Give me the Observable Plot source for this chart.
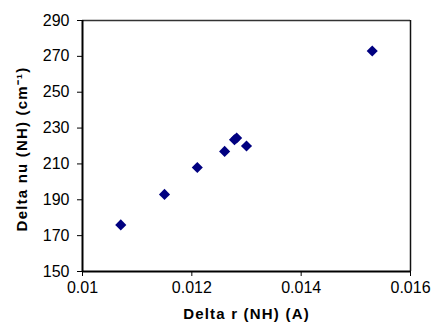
<!DOCTYPE html>
<html>
<head>
<meta charset="utf-8">
<script src="https://cdn.jsdelivr.net/npm/d3@7"></script>
<script src="https://cdn.jsdelivr.net/npm/@observablehq/plot@0.6"></script>
<style>
  html, body { margin: 0; padding: 0; background: #fff; }
  #chart svg { display: block; }
</style>
</head>
<body>
<div id="chart"></div>
<script>
const deltaR  = [0.0107, 0.0115, 0.0121, 0.0126, 0.01278, 0.01282, 0.0130, 0.0153];
const deltaNu = [176, 193, 208, 217, 223.5, 224.5, 220, 273];
const xTicks = [0.010, 0.012, 0.014, 0.016];
const xTickLabels = ["0.01", "0.012", "0.014", "0.016"];
const yTicks = [150, 170, 190, 210, 230, 250, 270, 290];
const xTitle = "Delta r (NH) (A)";
const yTitle = "Delta nu (NH) (cm⁻¹)";

const data = deltaR.map((r, i) => ({r, nu: deltaNu[i]}));

const chart = Plot.plot({
  width: 435,
  height: 323,
  marginLeft: 82,
  marginRight: 25,
  marginTop: 20,
  marginBottom: 52,
  style: {fontFamily: "'Liberation Sans', Arial, sans-serif", fontSize: "16px", color: "#000", background: "#fff"},
  x: {domain: [0.010, 0.016]},
  y: {domain: [150, 290]},
  marks: [
    Plot.axisX({ticks: xTicks, tickFormat: (d, i) => xTickLabels[i], tickSize: 5, tickPadding: 5, fontSize: 16,
      label: null}),
    Plot.axisY({ticks: yTicks, tickSize: 5, tickPadding: 8, fontSize: 16, label: null}),
    Plot.ruleY([290], {stroke: "#333", strokeWidth: 1.5}),
    Plot.ruleX([0.016], {stroke: "#111", strokeWidth: 1.5}),
    Plot.ruleY([150], {stroke: "#000", strokeWidth: 2}),
    Plot.ruleX([0.010], {stroke: "#000", strokeWidth: 2}),
    Plot.dot(data, {x: "r", y: "nu", symbol: "diamond2", r: 5, fill: "#000080", stroke: "none"}),
    Plot.text([xTitle], {frameAnchor: "bottom", textAnchor: "middle", dy: 47, fontSize: 15, fontWeight: "bold", fill: "#000", lineAnchor: "bottom"}),
    Plot.text([yTitle], {frameAnchor: "left", textAnchor: "middle", dx: -60, dy: 3, rotate: -90, fontSize: 15, fontWeight: "bold", fill: "#000"})
  ]
});
d3.select(chart).selectAll("text")
  .filter(function() { return this.textContent === xTitle || this.textContent === yTitle; })
  .attr("letter-spacing", "1.2px");
document.getElementById("chart").appendChild(chart);
</script>
</body>
</html>
